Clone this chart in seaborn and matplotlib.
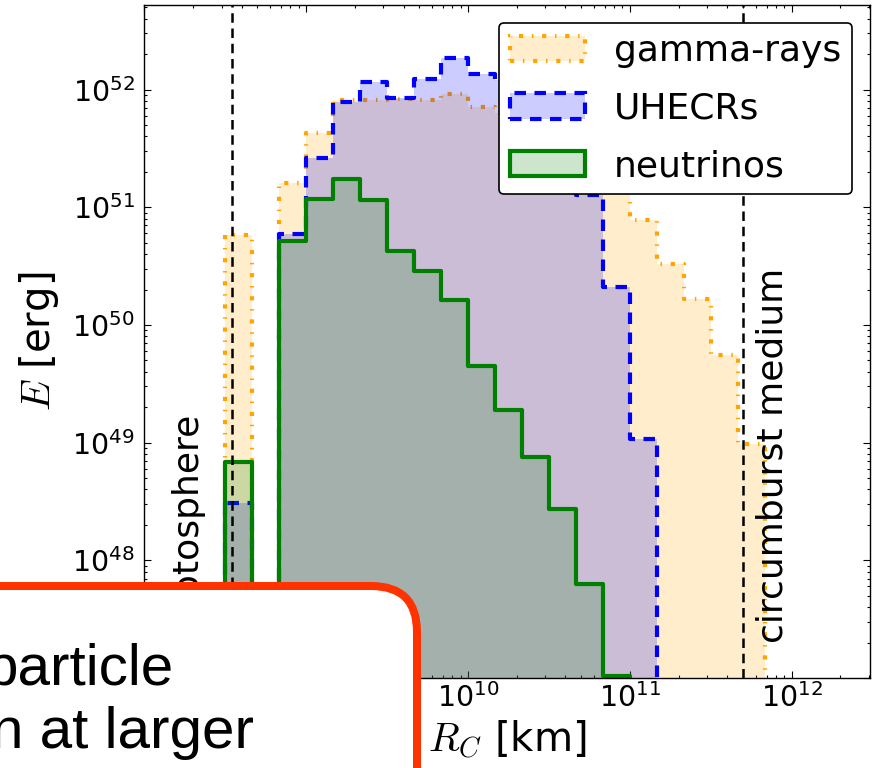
import numpy as np
import pandas as pd
import matplotlib
matplotlib.use("Agg")
import matplotlib.pyplot as plt
import seaborn as sns
from matplotlib.colors import to_rgba
from matplotlib.patches import FancyBboxPatch, Patch
from matplotlib.transforms import IdentityTransform

# ---------------------------------------------------------------------------
# Energy released per collision-radius bin (six bins per decade in R_C [km])
# ---------------------------------------------------------------------------
log_r_edges = np.linspace(8.5, 11.0 + 5.0 / 6.0, 21)          # log10(R_C / km)
r_centers = 10 ** (0.5 * (log_r_edges[:-1] + log_r_edges[1:]))  # km

gamma_erg = [5.8e50, 0.0, 1.6e51, 4.3e51, 8.1e51, 8.2e51, 8.3e51, 8.2e51,
             9.2e51, 7.1e51, 6.3e51, 5.0e51, 3.5e51, 2.2e51, 1.4e51, 7.8e50,
             3.3e50, 1.65e50, 5.5e49, 9.8e48]
uhecr_erg = [3.05e48, 0.0, 5.9e50, 2.6e51, 7.8e51, 1.15e52, 8.5e51, 1.24e52,
             1.86e52, 1.35e52, 1.2e52, 9.0e51, 5.0e51, 1.27e51, 2.1e50, 1.07e49,
             0.0, 0.0, 0.0, 0.0]
neutrino_erg = [6.8e48, 0.0, 5.2e50, 1.18e51, 1.73e51, 1.16e51, 4.25e50, 2.9e50,
                1.63e50, 4.45e49, 1.9e49, 7.6e48, 2.75e48, 6.3e47, 1.05e47, 0.0,
                0.0, 0.0, 0.0, 0.0]

series_labels = ["gamma-rays", "UHECRs", "neutrinos"]
series_colors = ["orange", "blue", "green"]
series_styles = [(0, (1.0, 2.1, 0.35, 2.1)), (0, (2.76, 2.04)), "-"]

r_photosphere = 3.5e8    # km
r_circumburst = 5.0e11   # km

x_limits = (1e8, 3.05e12)
y_limits = (1e47, 5.2e52)

# ---------------------------------------------------------------------------
sns.set_style("ticks")
plt.rcParams.update({
    "font.family": ["DejaVu Sans"],
    "mathtext.fontset": "cm",
    "axes.edgecolor": "black",
    "axes.labelcolor": "black",
    "text.color": "black",
    "xtick.color": "black",
    "ytick.color": "black",
    "axes.linewidth": 1.0,
})

W, H = 872, 768
fig = plt.figure(figsize=(W / 100, H / 100), dpi=100)
ax = fig.add_axes([144.3 / W, (H - 678) / H, (870 - 144.3) / W, (678 - 5.3) / H])

# bins are given in log10 units because the x axis is log-scaled
bin_list = [float(b) for b in log_r_edges]
for label, energy, color, ls in zip(series_labels,
                                    [gamma_erg, uhecr_erg, neutrino_erg],
                                    series_colors, series_styles):
    frame = pd.DataFrame({"R_C": r_centers, "E": energy})
    sns.histplot(data=frame, x="R_C", weights="E", bins=bin_list,
                 log_scale=True, element="step", fill=True, alpha=0.2,
                 color=color, linestyle=ls, linewidth=3, ax=ax)

ax.set_yscale("log")
ax.set_xlim(*x_limits)
ax.set_ylim(*y_limits)

for r in (r_photosphere, r_circumburst):
    ax.axvline(r, color="black", linestyle=(0, (3.8, 2.3)), linewidth=1.8, zorder=5)

ax.text(2.3e8, 2.2e47, "photosphere", rotation=90, ha="right", va="bottom",
        fontsize=26, zorder=6)
ax.text(6.0e11, 2e47, "circumburst medium", rotation=90, ha="left", va="bottom",
        fontsize=26, zorder=6)

ax.set_xlabel(r"$R_C$ [km]", fontsize=29)
ax.set_ylabel(r"$E$ [erg]", fontsize=29, labelpad=8)

ax.tick_params(which="both", direction="in", top=True, right=True, width=0.8)
ax.tick_params(which="major", length=5, labelsize=20.5)
ax.tick_params(which="minor", length=2.5)
ax.tick_params(axis="y", which="major", pad=7)

# legend swatches carry the same fill, edge colour and dash pattern as the steps
handles = [Patch(facecolor=to_rgba(c, 0.2), edgecolor=c, linestyle=ls,
                 linewidth=3, label=lab)
           for lab, c, ls in zip(series_labels, series_colors, series_styles)]
leg = ax.legend(handles=handles, loc="upper right", fontsize=26, fancybox=True,
                framealpha=1, edgecolor="black", handlelength=2.08,
                handleheight=0.7, borderpad=0.3, labelspacing=0.65,
                handletextpad=0.8, borderaxespad=0.5)
leg.get_frame().set_linewidth(1.2)
leg.get_frame().set_boxstyle("round", pad=0, rounding_size=0.13)

# Callout panel laid over the lower-left corner of the figure
px = IdentityTransform()
callout = FancyBboxPatch((-60, -62), 477, 244,
                         boxstyle="round,pad=0,rounding_size=46",
                         transform=px, facecolor="white", edgecolor="#ff3300",
                         linewidth=8 * 72 / 100, zorder=10)
fig.add_artist(callout)
callout_font = ["Liberation Sans", "DejaVu Sans"]
fig.text(174, H - 685, "particle", transform=px, ha="right", va="baseline",
         fontsize=42, family=callout_font, zorder=11)
fig.text(254, H - 748, "n at larger", transform=px, ha="right", va="baseline",
         fontsize=42, family=callout_font, zorder=11)

fig.savefig("out.png", dpi=100)
